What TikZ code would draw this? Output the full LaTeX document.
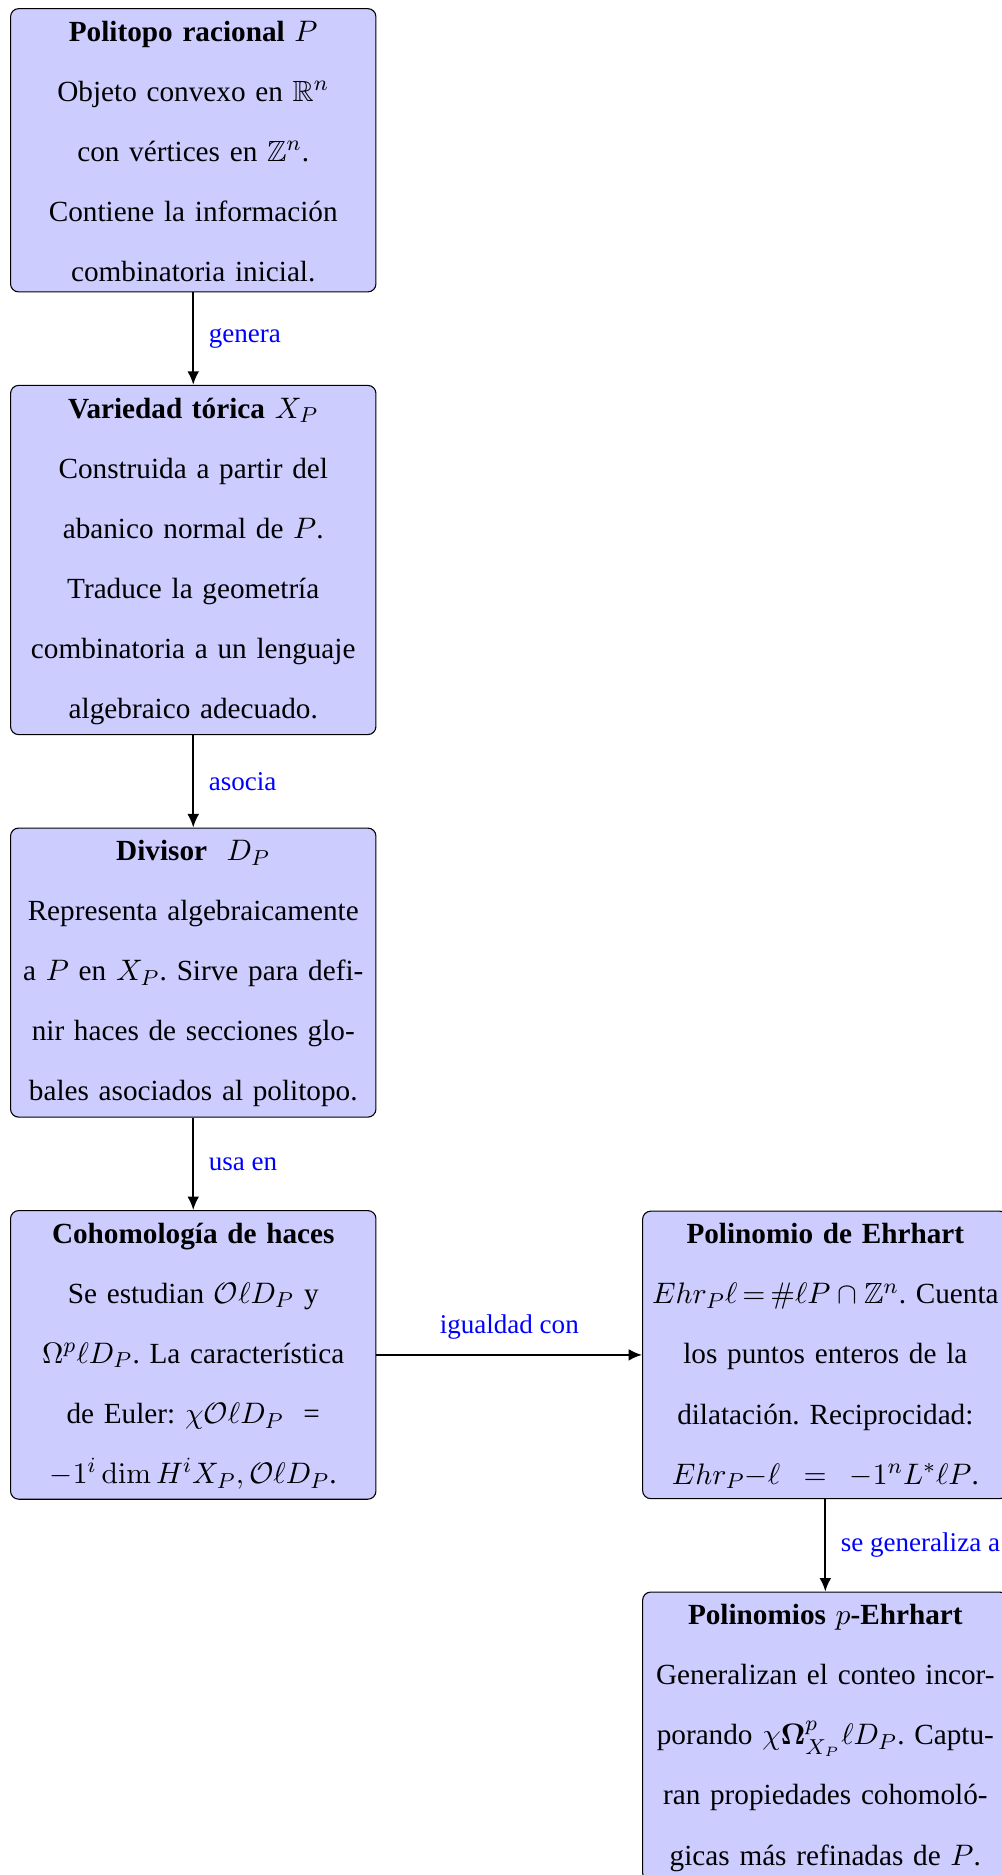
\documentclass[tikz,border=0pt]{standalone}
\usepackage{amsmath,amssymb}
\usepackage[no-math]{fontspec}
\setmainfont{Liberation Serif}
\frenchspacing
\usepackage{tikz}
\usetikzlibrary{calc,positioning,arrows.meta}

\begin{document}
\begin{tikzpicture}[
		caja/.style={draw=black, fill=blue!20, rounded corners=3pt, text width=4.62cm, inner xsep=1.8pt, inner ysep=3.67pt, align=center,
			font=\fontsize{10.8}{22.2}\selectfont, execute at begin node={\rule{0pt}{8.4pt}}},
		flecha/.style={thick, -{Latex[length=5pt,width=4.4pt]}},
		etiq/.style={text=blue, font=\fontsize{10}{12}\selectfont}
	]
		%%%%% START %%%%%
		
		\node[caja] (pol) {\textbf{Politopo racional} $P$\\
			Objeto convexo en $\mathbb{R}^n$\\
			con vértices en $\mathbb{Z}^n$.\\
			Contiene la información\\
			combinatoria inicial.};
		
		\node[caja, below=1.2cm of pol] (tor) {\textbf{Variedad tórica} $X_P$\\
			Construida a partir del\\
			abanico normal de $P$.\\
			Traduce la geometría\\
			combinatoria a un lenguaje\\
			algebraico adecuado.};
		
		\node[caja, below=1.2cm of tor] (div) {\textbf{Divisor} \ $D_P$\\
			Representa algebraicamente\\
			a $P$ en $X_P$. Sirve para defi-\\
			nir haces de secciones glo-\\
			bales asociados al politopo.};
		
		\node[caja, below=1.2cm of div] (coh) {\textbf{Cohomología de haces}\\
			Se estudian $\mathcal{O}\ell D_P$ y\\
			$\Omega^p\ell D_P$. La característica\\
			de Euler: $\chi\mathcal{O}\ell D_P$ \ =\\
			$-1^i\dim H^iX_P,\mathcal{O}\ell D_P$.};
		
		\node[caja, right=3.45cm of coh] (ehr) {\textbf{Polinomio de Ehrhart}\\
			$Ehr_P\ell\,{=}\,\#\ell P\cap\mathbb{Z}^n$. Cuenta\\
			los puntos enteros de la\\
			dilatación. Reciprocidad:\\
			$Ehr_P{-}\ell \;=\; -1^nL^*\ell P$.};
		
		\node[caja, below=1.2cm of ehr] (pehr) {\textbf{Polinomios $p$-Ehrhart}\\
			Generalizan el conteo incor-\\
			porando $\chi\boldsymbol{\Omega}^p_{X_P}\ell D_P$. Captu-\\
			ran propiedades cohomoló-\\
			gicas más refinadas de $P$.};
		
		\draw[flecha] (pol) -- node[etiq, right=2pt] {genera} (tor);
		\draw[flecha] (tor) -- node[etiq, right=2pt] {asocia} (div);
		\draw[flecha] (div) -- node[etiq, right=2pt] {usa en} (coh);
		\draw[flecha] (coh) -- node[etiq, above=2pt] {igualdad con} (ehr);
		\draw[flecha] (ehr) -- node[etiq, right=2pt] {se generaliza a} (pehr);
		
		\pgfresetboundingbox
		\useasboundingbox ($(pol.north west)+(-3.7pt,3pt)$) rectangle ++(370pt,-693pt);
		
		%%%%% END %%%%%
	\end{tikzpicture}
\end{document}
